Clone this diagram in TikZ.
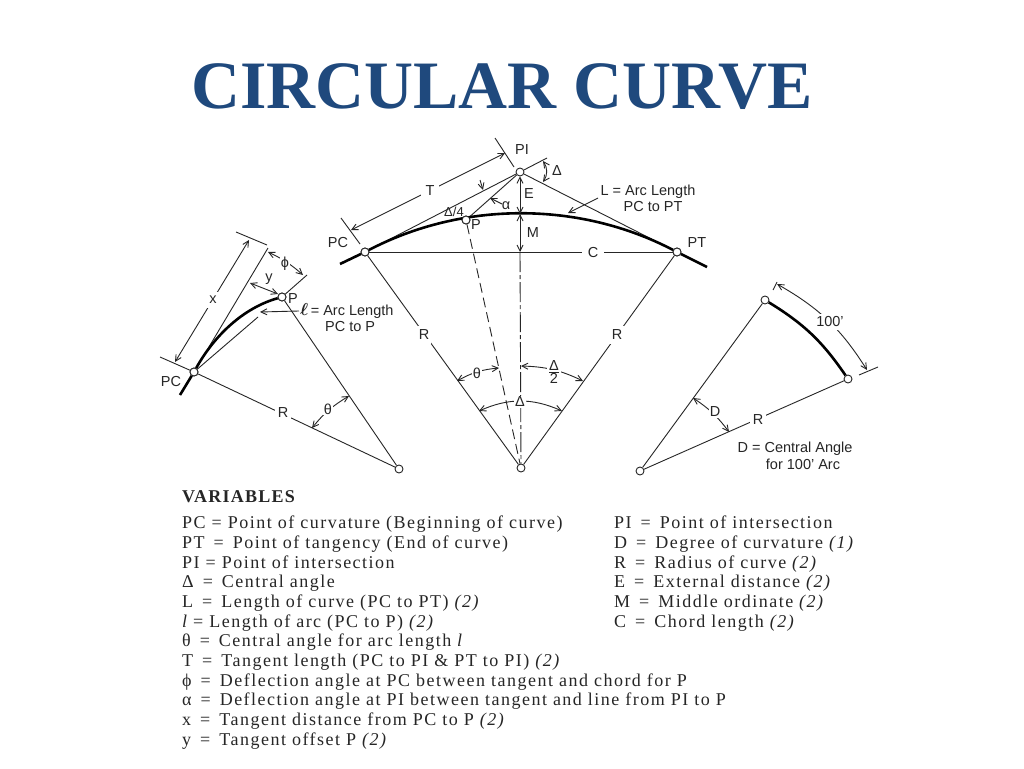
\documentclass[tikz,border=0pt]{standalone}
\usepackage{fontspec}
\usetikzlibrary{arrows.meta}
\setmainfont{Liberation Serif}
\setsansfont{Liberation Sans}
\newfontfamily\varfont[LetterSpace=8.3]{Liberation Serif}
\newfontfamily\varhead[LetterSpace=7]{Liberation Serif}
\definecolor{titleblue}{HTML}{1F497D}
\definecolor{ink}{HTML}{262626}
\tikzset{
  thin line/.style={draw=ink,line width=0.9pt},
  heavy/.style={draw=black,line width=2.6pt},
  dim/.style={thin line,{Straight Barb[length=6pt,width=6pt]}-{Straight Barb[length=6pt,width=6pt]}},
  onehead/.style={thin line,-{Straight Barb[length=6pt,width=6pt]}},
  station/.style={circle,draw=ink,fill=white,line width=0.9pt,minimum size=8pt,inner sep=0pt},
  lab/.style={font=\sffamily\fontsize{14.5}{16}\selectfont,text=ink,inner sep=1pt},
  gaplab/.style={lab,fill=white,inner sep=2pt},
  var/.style={anchor=base west,inner sep=0pt,text=ink,font=\varfont\fontsize{18}{20}\selectfont},
}
\begin{document}
\begin{tikzpicture}[x=1pt,y=-1pt]
\useasboundingbox[fill=white] (0,0) rectangle (1024,768);
\node[font=\rmfamily\bfseries\fontsize{67.8}{80}\selectfont,text=titleblue,inner sep=0pt] (title) at (502,87) {CIRCULAR CURVE};

% ---------- centre diagram ----------
\node[station] (PC) at (365,252) {};
\node[station] (PT) at (677,252) {};
\node[station] (PI) at (520,172) {};
\node[station] (P) at (466,220) {};
\node[station] (O) at (521,468) {};
\coordinate (top) at (520,214);
\coordinate (chordmid) at (520,252);
\coordinate (extL) at (340,264);
\coordinate (extR) at (707,267);
\coordinate (tanend) at (547,158);
\draw[thin line] (PC) -- (PI);
\draw[thin line] (PI) -- (tanend);
\draw[thin line] (PI) -- (PT);
\draw[thin line] (PI) -- (P);
\draw[heavy] (extL) -- (PC);
\draw[heavy] (PT) -- (extR);
\draw[heavy] (PC) .. controls (463,201) and (579,201) .. (PT);
\node[station] at (PC) {};\node[station] at (PT) {};\node[station] at (P) {};
\draw[thin line] (PC) -- (PT);
\node[gaplab,inner xsep=6pt] (Clab) at (593,253) {C};
\draw[thin line] (PC) -- (O);
\draw[thin line] (PT) -- (O);
\node[gaplab,inner ysep=4pt] (R1) at (424,335) {R};
\node[gaplab,inner ysep=4pt] (R2) at (617,335) {R};
\draw[thin line,dash pattern=on 10pt off 5pt] (P) -- (O);
\draw[thin line,dash pattern=on 20pt off 3pt on 4pt off 3pt] (chordmid) -- (O);
\draw[dim] (PI) -- (top);
\draw[dim] (top) -- (chordmid);
\node[lab] (Elab) at (529,194) {E};
\node[lab] (Mlab) at (533,233) {M};
\node[lab] (PIlab) at (522,150) {PI};
\node[lab] (PClab) at (338,243) {PC};
\node[lab] (PTlab) at (697,243) {PT};
\node[lab] (Plab) at (476,225) {P};
% T dimension
\coordinate (t1a) at (495,138); \coordinate (t1b) at (514,167);
\coordinate (t2a) at (341,218); \coordinate (t2b) at (360,244);
\coordinate (tA) at (351,230); \coordinate (tB) at (505,153);
\draw[thin line] (t1a) -- (t1b);
\draw[thin line] (t2a) -- (t2b);
\draw[dim] (tA) -- (tB);
\node[gaplab,inner xsep=5pt] (Tlab) at (430,191) {T};
% small labels
\node[lab,font=\sffamily\fontsize{13}{15}\selectfont] (d4) at (454,212) {Δ/4};
\coordinate (d4a) at (480,180); \coordinate (d4b) at (483,190);
\draw[onehead] (d4a) -- (d4b);
\coordinate (alA) at (502,204); \coordinate (alB) at (490,198);
\draw[onehead] (alA) -- (alB);
\node[lab] (allab) at (506,206) {α};
\coordinate (dA) at (543,161); \coordinate (dB) at (543,182);
\draw[dim] (dA) to[bend left=35] (dB);
\node[lab] (dlab) at (557,171) {Δ};
% L label
\node[lab] (L1) at (648,192) {L = Arc Length};
\node[lab] (L2) at (653,207) {PC to PT};
\coordinate (La) at (598,198); \coordinate (Lb) at (568,213);
\draw[onehead] (La) -- (Lb);
% angle arcs
\coordinate (thA) at (457,381); \coordinate (thB) at (499,368);
\draw[dim] (thA) to[bend left=12] (thB);
\node[gaplab,inner sep=1pt] (thlab) at (477,373) {θ};
\coordinate (h1) at (521,366); \coordinate (h2) at (583,381);
\draw[dim] (h1) to[bend left=12] (h2);
\node[gaplab,inner sep=1pt] (hlab) at (554,372) {$\frac{\hbox{\sffamily\fontsize{14.5}{15}\selectfont Δ}}{\hbox{\sffamily\fontsize{14.5}{15}\selectfont 2}}$};
\coordinate (fa) at (479,411); \coordinate (fb) at (562,411);
\draw[dim] (fa) to[bend left=24] (fb);
\node[gaplab,inner sep=1pt] (flab) at (520,402) {Δ};

% ---------- left diagram ----------
\node[station] (lPC) at (194,372) {};
\node[station] (lP) at (282,297) {};
\node[station] (lO) at (399,469) {};
\coordinate (lext) at (180,395);
\coordinate (ltan) at (268,248);
\coordinate (lch) at (258,317);
\coordinate (lpe) at (307,275);
\draw[thin line] (lPC) -- (ltan);
\draw[thin line] (lPC) -- (lch);
\draw[thin line] (lP) -- (lpe);
\draw[thin line] (lP) -- (lO);
\draw[thin line] (lPC) -- (lO);
\draw[heavy] (lext) -- (lPC);
\draw[heavy] (lPC) .. controls (214,336) and (243,308) .. (lP);
\node[station] at (lPC) {};\node[station] at (lP) {};
\node[gaplab,inner sep=3pt] (lR) at (283,413) {R};
\coordinate (lx1a) at (236,232); \coordinate (lx1b) at (267,245);
\coordinate (lx2a) at (160,357);
\draw[thin line] (lx1a) -- (lx1b);
\draw[thin line] (lx2a) -- (lPC);
\coordinate (xA) at (175,362); \coordinate (xB) at (249,240);
\draw[dim] (xA) -- (xB);
\node[gaplab,inner ysep=4pt] (xlab) at (213,300) {x};
\coordinate (phA) at (268,252); \coordinate (phB) at (303,275);
\draw[dim] (phA) to[bend left=8] (phB);
\node[gaplab,inner sep=1pt] (phlab) at (285,264) {ϕ};
\coordinate (yA) at (250,283); \coordinate (yB) at (278,294);
\draw[dim] (yA) -- (yB);
\node[lab] (ylab) at (269,279) {y};
\node[lab] (lPlab) at (293,299) {P};
\node[lab] (lPClab) at (171,382) {PC};
\coordinate (lt1) at (312,428); \coordinate (lt2) at (349,396);
\draw[dim] (lt1) to[bend left=10] (lt2);
\node[gaplab,inner sep=1pt] (ltlab) at (328,409) {θ};
\node[gaplab,anchor=west,inner sep=1pt] (ellab) at (299,311) {{\fontsize{19}{20}\selectfont\boldmath$\ell$}\,= Arc Length};
\node[lab,anchor=west] (el2) at (324,327) {PC to P};
\coordinate (elB) at (260,312);
\draw[onehead] (ellab.west) -- (elB);

% ---------- right diagram ----------
\node[station] (A) at (765,300) {};
\node[station] (B) at (848,379) {};
\node[station] (rO) at (640,471) {};
\draw[thin line] (A) -- (rO);
\draw[thin line] (B) -- (rO);
\draw[heavy] (A) to[bend left=12] (B);
\node[gaplab,inner sep=3pt] (rR) at (758,420) {R};
\coordinate (r1a) at (773,290); \coordinate (r1b) at (777,282);
\coordinate (r2a) at (859,375); \coordinate (r2b) at (878,367);
\draw[thin line] (r1a) -- (r1b);
\draw[thin line] (r2a) -- (r2b);
\coordinate (cA) at (777,284); \coordinate (cB) at (867,370);
\draw[dim] (cA) to[bend left=14] (cB);
\node[gaplab,inner sep=3pt] (hund) at (830,322) {100'};
\coordinate (Da) at (693,398); \coordinate (Db) at (729,432);
\draw[dim] (Da) to[bend left=10] (Db);
\node[gaplab,inner sep=1pt] (Dlab) at (715,412) {D};
\node[lab] (D1) at (795,449) {D = Central Angle};
\node[lab] (D2) at (803,464) {for 100' Arc};

% ---------- variables ----------
\node[anchor=base west,inner sep=0pt,text=ink,font=\varhead\bfseries\fontsize{18}{20}\selectfont] (vh) at (182,502) {VARIABLES};
\newcommand{\vnote}[1]{{\itshape #1}}
\node[var] (v1) at (182,528) {PC = Point of curvature (Beginning of curve)};
\node[var] (v2) at (182,548) {PT \,=\, Point of tangency (End of curve)};
\node[var] (v3) at (182,568) {PI = Point of intersection};
\node[var] (v4) at (182,587) {Δ \,=\, Central angle};
\node[var] (v5) at (182,607) {L \,=\, Length of curve (PC to PT) \vnote{(2)}};
\node[var] (v6) at (182,627) {\itshape l \upshape = Length of arc (PC to P) \vnote{(2)}};
\node[var] (v7) at (182,646) {θ \,=\, Central angle for arc length \itshape l};
\node[var] (v8) at (182,666) {T \,=\, Tangent length (PC to PI \& PT to PI) \vnote{(2)}};
\node[var] (v9) at (182,686) {ϕ \,=\, Deflection angle at PC between tangent and chord for P};
\node[var] (v10) at (182,705) {α \,=\, Deflection angle at PI between tangent and line from PI to P};
\node[var] (v11) at (182,725) {x \,=\, Tangent distance from PC to P \vnote{(2)}};
\node[var] (v12) at (182,745) {y \,=\, Tangent offset P \vnote{(2)}};
\node[var] (w1) at (614,528) {PI \,=\, Point of intersection};
\node[var] (w2) at (614,548) {D \,=\, Degree of curvature \vnote{(1)}};
\node[var] (w3) at (614,568) {R \,=\, Radius of curve \vnote{(2)}};
\node[var] (w4) at (614,587) {E \,=\, External distance \vnote{(2)}};
\node[var] (w5) at (614,607) {M \,=\, Middle ordinate \vnote{(2)}};
\node[var] (w6) at (614,627) {C \,=\, Chord length \vnote{(2)}};
\end{tikzpicture}
\end{document}
